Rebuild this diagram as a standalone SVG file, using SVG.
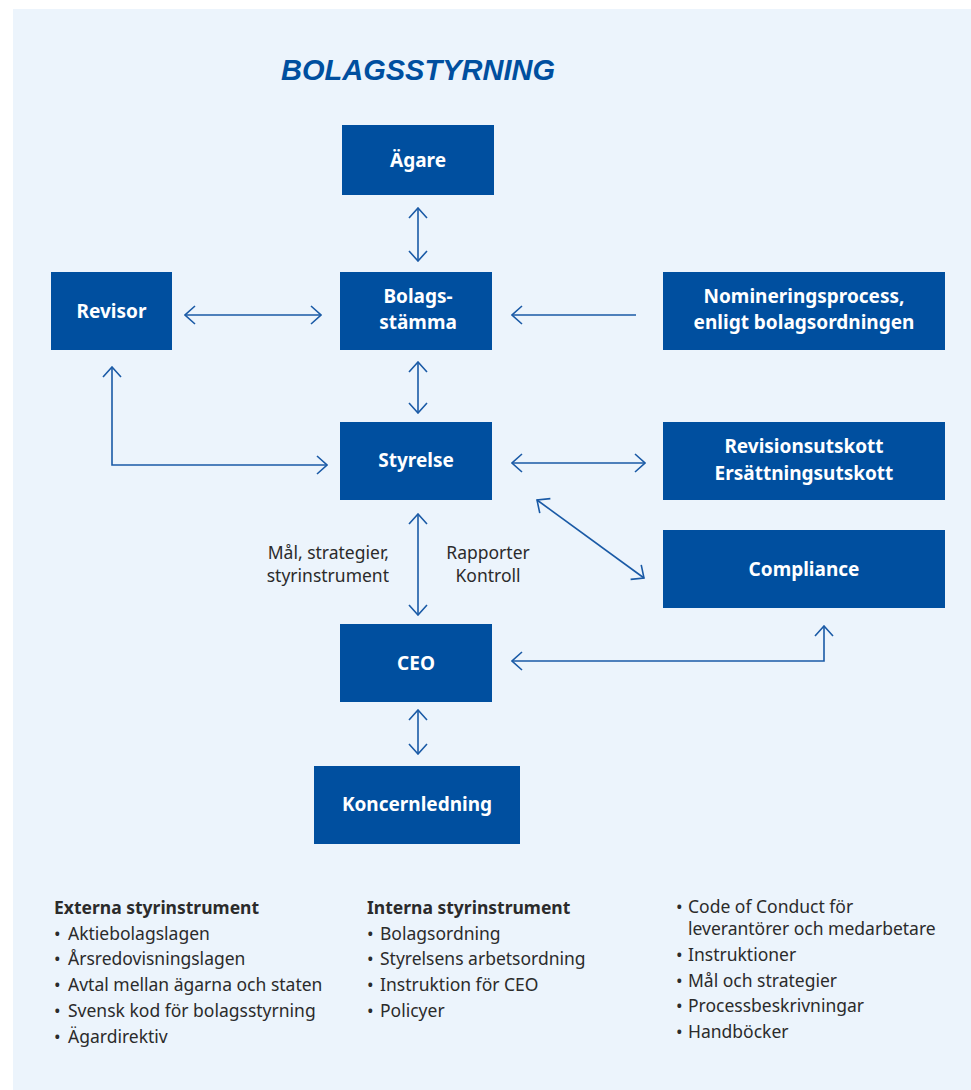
<svg xmlns="http://www.w3.org/2000/svg" width="971" height="1090" viewBox="0 0 971 1090">
<defs>
<style>
.box{fill:#004f9f}
.bt{fill:#ffffff;font-family:"Noto Sans","Liberation Sans",Arial,sans-serif;font-weight:bold;font-size:19px;text-anchor:middle}
.ln{fill:none;stroke:#1a5aa6;stroke-width:1.6}
.lb{fill:#2b2b2b;font-family:"Noto Sans","Liberation Sans",Arial,sans-serif;font-size:17.5px}
.hd{font-weight:bold}
</style>
<marker id="ah" viewBox="0 0 12 20" refX="11" refY="10" markerWidth="12" markerHeight="20" markerUnits="userSpaceOnUse" orient="auto-start-reverse">
<path d="M1,1 L11,10 L1,19" fill="none" stroke="#1a5aa6" stroke-width="1.6"/>
</marker>
</defs>
<rect x="0" y="0" width="971" height="1090" fill="#ffffff"/>
<rect x="13" y="9" width="958" height="1081" fill="#ecf4fc"/>
<text x="281" y="80" fill="#004f9f" font-family="'Liberation Sans',Arial,sans-serif" font-weight="bold" font-style="italic" font-size="30" textLength="274" lengthAdjust="spacingAndGlyphs">BOLAGSSTYRNING</text>

<g id="connectors">
<line class="ln" x1="418" y1="208" x2="418" y2="261" marker-start="url(#ah)" marker-end="url(#ah)"/>
<line class="ln" x1="185" y1="315" x2="321" y2="315" marker-start="url(#ah)" marker-end="url(#ah)"/>
<line class="ln" x1="636" y1="315" x2="512" y2="315" marker-end="url(#ah)"/>
<line class="ln" x1="418" y1="362" x2="418" y2="413" marker-start="url(#ah)" marker-end="url(#ah)"/>
<polyline class="ln" points="112,367 112,465 327,465" marker-start="url(#ah)" marker-end="url(#ah)"/>
<line class="ln" x1="512" y1="463" x2="645" y2="463" marker-start="url(#ah)" marker-end="url(#ah)"/>
<line class="ln" x1="537" y1="500" x2="644" y2="578" marker-start="url(#ah)" marker-end="url(#ah)"/>
<line class="ln" x1="418" y1="514" x2="418" y2="615" marker-start="url(#ah)" marker-end="url(#ah)"/>
<polyline class="ln" points="512,661 824,661 824,626" marker-start="url(#ah)" marker-end="url(#ah)"/>
<line class="ln" x1="418" y1="710" x2="418" y2="754" marker-start="url(#ah)" marker-end="url(#ah)"/>
<text class="lb" x="389" y="559" text-anchor="end">Mål, strategier,</text>
<text class="lb" x="389" y="582" text-anchor="end">styrinstrument</text>
<text class="lb" x="488" y="559" text-anchor="middle">Rapporter</text>
<text class="lb" x="488" y="582" text-anchor="middle">Kontroll</text>
</g>

<g id="agare"><rect class="box" x="342" y="125" width="152" height="70"/><text class="bt" x="418" y="167">Ägare</text></g>
<g id="bolagsstamma"><rect class="box" x="340" y="272" width="152" height="78"/><text class="bt" x="418" y="303">Bolags-</text><text class="bt" x="418" y="329">stämma</text></g>
<g id="revisor"><rect class="box" x="51" y="272" width="121" height="78"/><text class="bt" x="111.5" y="318">Revisor</text></g>
<g id="nominering"><rect class="box" x="663" y="272" width="282" height="78"/><text class="bt" x="804" y="303">Nomineringsprocess,</text><text class="bt" x="804" y="329">enligt bolagsordningen</text></g>
<g id="styrelse"><rect class="box" x="340" y="422" width="152" height="78"/><text class="bt" x="416" y="467">Styrelse</text></g>
<g id="utskott"><rect class="box" x="663" y="422" width="282" height="78"/><text class="bt" x="804" y="453">Revisionsutskott</text><text class="bt" x="804" y="480">Ersättningsutskott</text></g>
<g id="compliance"><rect class="box" x="663" y="530" width="282" height="78"/><text class="bt" x="804" y="576">Compliance</text></g>
<g id="ceo"><rect class="box" x="340" y="624" width="152" height="78"/><text class="bt" x="416" y="670">CEO</text></g>
<g id="koncernledning"><rect class="box" x="314" y="766" width="206" height="78"/><text class="bt" x="417" y="811">Koncernledning</text></g>

<g id="externa" class="lb">
<text x="54" y="914" class="hd">Externa styrinstrument</text>
<text y="940"><tspan x="54">•</tspan><tspan x="68">Aktiebolagslagen</tspan></text>
<text y="965"><tspan x="54">•</tspan><tspan x="68">Årsredovisningslagen</tspan></text>
<text y="991"><tspan x="54">•</tspan><tspan x="68">Avtal mellan ägarna och staten</tspan></text>
<text y="1017"><tspan x="54">•</tspan><tspan x="68">Svensk kod för bolagsstyrning</tspan></text>
<text y="1043"><tspan x="54">•</tspan><tspan x="68">Ägardirektiv</tspan></text>
</g>
<g id="interna" class="lb">
<text x="367" y="914" class="hd">Interna styrinstrument</text>
<text y="940"><tspan x="367">•</tspan><tspan x="380">Bolagsordning</tspan></text>
<text y="965"><tspan x="367">•</tspan><tspan x="380">Styrelsens arbetsordning</tspan></text>
<text y="991"><tspan x="367">•</tspan><tspan x="380">Instruktion för CEO</tspan></text>
<text y="1017"><tspan x="367">•</tspan><tspan x="380">Policyer</tspan></text>
</g>
<g id="ovriga" class="lb">
<text y="913"><tspan x="676">•</tspan><tspan x="688">Code of Conduct för</tspan></text>
<text x="688" y="935">leverantörer och medarbetare</text>
<text y="961"><tspan x="676">•</tspan><tspan x="688">Instruktioner</tspan></text>
<text y="987"><tspan x="676">•</tspan><tspan x="688">Mål och strategier</tspan></text>
<text y="1012"><tspan x="676">•</tspan><tspan x="688">Processbeskrivningar</tspan></text>
<text y="1038"><tspan x="676">•</tspan><tspan x="688">Handböcker</tspan></text>
</g>
</svg>
